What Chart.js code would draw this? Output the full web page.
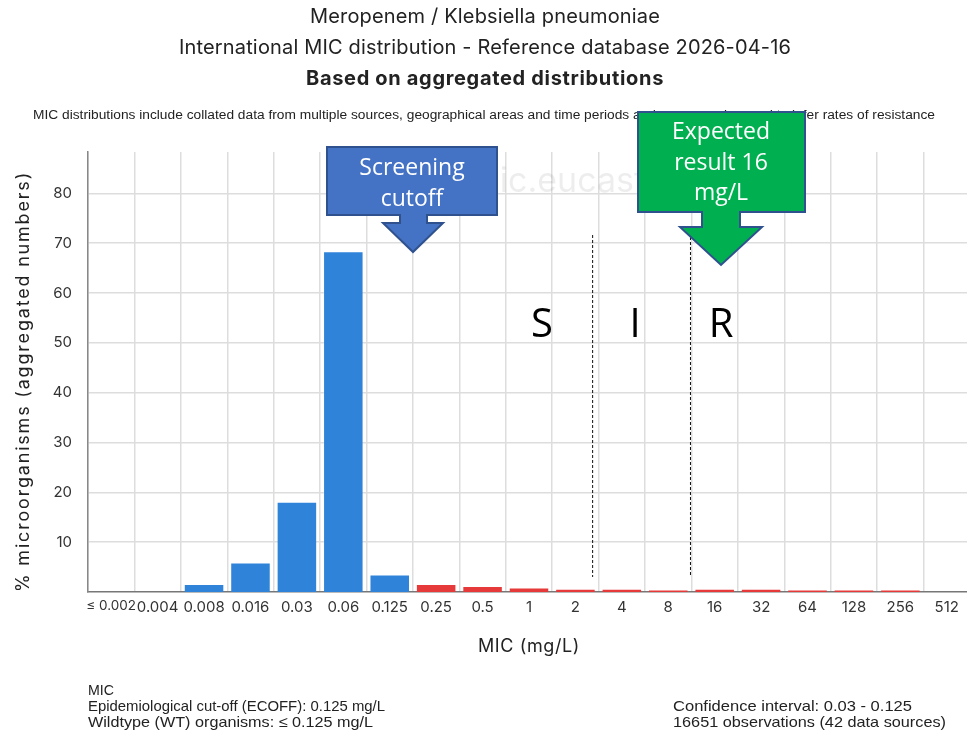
<!DOCTYPE html>
<html><head><meta charset="utf-8">
<script src="https://cdn.jsdelivr.net/npm/chart.js@4.4.1/dist/chart.umd.min.js"></script>
<style>
html,body{margin:0;padding:0;background:#fff;overflow:hidden;}
#wrap{position:relative;width:970px;height:734px;}
</style></head><body>
<div id="wrap"><canvas id="c" width="970" height="734"></canvas></div>
<script>
// ---------- data ----------
const categories = ['≤ 0.002','0.004','0.008','0.016','0.03','0.06','0.125','0.25','0.5','1','2','4','8','16','32','64','128','256','512'];
const percentages = [0, 0, 1.4, 5.7, 17.9, 68.2, 3.3, 1.4, 1.0, 0.7, 0.45, 0.45, 0.3, 0.45, 0.45, 0.3, 0.3, 0.3, 0];
const yTickValues = [10, 20, 30, 40, 50, 60, 70, 80];
const ecoffIndex = 6; // 0.125 mg/L, last wildtype category
const titleLines = ['Meropenem / Klebsiella pneumoniae', 'International MIC distribution - Reference database 2026-04-16'];
const subtitleText = 'Based on aggregated distributions';
const disclaimerText = 'MIC distributions include collated data from multiple sources, geographical areas and time periods and can never be used to infer rates of resistance';
const footerLeft = ['MIC', 'Epidemiological cut-off (ECOFF): 0.125 mg/L', 'Wildtype (WT) organisms: ≤ 0.125 mg/L'];
const footerRight = ['Confidence interval: 0.03 - 0.125', '16651 observations (42 data sources)'];
const xTitle = 'MIC (mg/L)';
const yTitle = '% microorganisms (aggregated numbers)';
const screeningLabel = ['Screening', 'cutoff'];
const expectedLabel = ['Expected', 'result 16', 'mg/L'];
const sirLabels = ['S', 'I', 'R'];
const watermark = 'mic.eucast.org';

// ---------- style ----------
const BLUE = '#2f84da', RED = '#e63a3a', TXT = '#222';
Chart.defaults.font.family = 'Inter, "Liberation Sans", sans-serif';
Chart.defaults.color = TXT;

function fitText(ctx, text, x, y, width, font, align) {
  ctx.save();
  ctx.font = font;
  const w = ctx.measureText(text).width;
  const sx = width / w;
  ctx.translate(x, y);
  ctx.scale(sx, 1);
  ctx.textAlign = align || 'left';
  ctx.textBaseline = 'alphabetic';
  ctx.fillText(text, 0, 0);
  ctx.restore();
}

// letter tracking for titles so their extent matches the reference
function track(obj, method, font, text, target) {
  if (!obj || obj['_tr_' + method]) return;
  const orig = obj[method];
  obj['_tr_' + method] = true;
  obj[method] = function (...args) {
    const c = this.ctx || obj.ctx;
    c.save();
    c.letterSpacing = '0px';
    c.font = font;
    const w = c.measureText(text).width;
    const sp = Math.max(0, (target - w) / text.length);
    c.restore();
    const prev = c.letterSpacing;
    c.letterSpacing = sp + 'px';
    orig.apply(this, args);
    c.letterSpacing = prev;
  };
}

const trackingPlugin = {
  id: 'tracking',
  afterLayout(chart) {
    track(chart.scales.y, 'drawTitle', '18px Inter', yTitle, 421);
    track(chart.scales.x, 'drawTitle', '18px Inter', xTitle, 102);
    chart.boxes.forEach(b => {
      if (!b.options || b.options.text === undefined) return;
      if (Array.isArray(b.options.text)) track(b, 'draw', '20px Inter', titleLines[0], 350);
      else if (b.options.text === subtitleText) track(b, 'draw', 'bold 20px Inter', subtitleText, 358);
    });
  }
};

function callout(ctx, c, fill) {
  ctx.save();
  ctx.beginPath();
  ctx.moveTo(c.l, c.t);
  ctx.lineTo(c.r, c.t);
  ctx.lineTo(c.r, c.b);
  ctx.lineTo(c.sr, c.b);
  ctx.lineTo(c.sr, c.hy);
  ctx.lineTo(c.hr, c.hy);
  ctx.lineTo(c.tx, c.ty);
  ctx.lineTo(c.hl, c.hy);
  ctx.lineTo(c.sl, c.hy);
  ctx.lineTo(c.sl, c.b);
  ctx.lineTo(c.l, c.b);
  ctx.closePath();
  ctx.fillStyle = fill;
  ctx.fill();
  ctx.lineWidth = 2;
  ctx.strokeStyle = '#2f528f';
  ctx.lineJoin = 'miter';
  ctx.stroke();
  ctx.restore();
}

const overlayPlugin = {
  id: 'overlay',
  beforeDatasetsDraw(chart) {
    const ctx = chart.ctx;
    ctx.save();
    ctx.font = '34px Inter';
    ctx.fillStyle = 'rgba(0,0,0,0.07)';
    ctx.textAlign = 'left';
    ctx.textBaseline = 'alphabetic';
    ctx.fillText(watermark, 470, 192);
    ctx.restore();
  },
  afterDraw(chart) {
    const ctx = chart.ctx;
    const x = chart.scales.x;
    const boundary = i => (x.getPixelForValue(i) + x.getPixelForValue(i + 1)) / 2;

    // disclaimer
    ctx.fillStyle = TXT;
    fitText(ctx, disclaimerText, 33, 119, 902, '12px "Liberation Sans"', 'left');

    // breakpoint dashed lines (S|I between 2 and 4, I|R between 8 and 16)
    ctx.save();
    ctx.strokeStyle = '#111';
    ctx.lineWidth = 1;
    ctx.setLineDash([3, 2]);
    const d1 = boundary(10) - 6, d2 = boundary(12) - 1;
    ctx.beginPath(); ctx.moveTo(d1, 235); ctx.lineTo(d1, 577); ctx.stroke();
    ctx.beginPath(); ctx.moveTo(d2, 232); ctx.lineTo(d2, 577); ctx.stroke();
    ctx.restore();

    // S I R
    ctx.save();
    ctx.fillStyle = '#000';
    ctx.font = '40px "Open Sans"';
    ctx.textAlign = 'center';
    ctx.textBaseline = 'alphabetic';
    ctx.fillText(sirLabels[0], 542, 337);
    ctx.fillText(sirLabels[1], 635, 337);
    ctx.fillText(sirLabels[2], 721, 337);
    ctx.restore();

    // callouts
    callout(ctx, {l: 327, t: 147, r: 497, b: 215, sl: 400, sr: 427, hy: 223, hl: 383, hr: 443, tx: 413, ty: 252}, '#4472c4');
    callout(ctx, {l: 638, t: 112, r: 805, b: 212, sl: 702, sr: 740, hy: 227, hl: 680, hr: 762, tx: 721, ty: 265}, '#00b050');
    ctx.save();
    ctx.fillStyle = '#fff';
    ctx.font = '23px "Open Sans"';
    ctx.textAlign = 'center';
    ctx.textBaseline = 'alphabetic';
    ctx.fillText(screeningLabel[0], 412, 175);
    ctx.fillText(screeningLabel[1], 412, 206);
    ctx.fillText(expectedLabel[0], 721, 139);
    ctx.fillText(expectedLabel[1], 721, 170);
    ctx.fillText(expectedLabel[2], 721, 200);
    ctx.restore();

    // footer
    ctx.fillStyle = TXT;
    const fl = [[26, 695], [297, 711], [285, 727]];
    footerLeft.forEach((t, i) => fitText(ctx, t, 88, fl[i][1], fl[i][0], '15px "Liberation Sans"', 'left'));
    const fr = [[239, 711], [273, 727]];
    footerRight.forEach((t, i) => fitText(ctx, t, 673, fr[i][1], fr[i][0], '15px "Liberation Sans"', 'left'));
  }
};

new Chart(document.getElementById('c'), {
  type: 'bar',
  data: {
    labels: categories,
    datasets: [{
      data: percentages,
      backgroundColor: c => c.dataIndex <= ecoffIndex ? BLUE : RED,
      borderWidth: 0,
      barPercentage: 0.83,
      categoryPercentage: 1.0
    }]
  },
  options: {
    responsive: false,
    animation: false,
    events: [],
    layout: { padding: { left: 0, right: 0, top: 0, bottom: 64 } },
    plugins: {
      legend: { display: false },
      tooltip: { enabled: false },
      title: {
        display: true,
        text: titleLines,
        font: { size: 20, weight: 'normal', lineHeight: 31 / 20 },
        padding: { top: 1.5, bottom: 0 },
        color: TXT
      },
      subtitle: {
        display: true,
        text: subtitleText,
        font: { size: 20, weight: 'bold', lineHeight: 31 / 20 },
        padding: { top: 0, bottom: 57.5 },
        color: TXT
      }
    },
    scales: {
      x: {
        offset: true,
        grid: { offset: true, color: '#dddddd', lineWidth: 1.5, drawTicks: false },
        border: { color: '#777', width: 1.5 },
        ticks: {
          font: c => ({ size: c.index === 0 ? 13.5 : 15 }),
          color: '#333', padding: 6, maxRotation: 0, autoSkip: false
        },
        title: { display: true, text: xTitle, font: { size: 18 }, padding: { top: 0, bottom: 13 }, color: TXT },
        afterFit(s) { s.height = 78; }
      },
      y: {
        min: 0,
        max: 88.3,
        afterBuildTicks(s) { s.ticks = yTickValues.map(v => ({ value: v })); },
        grid: { color: '#dddddd', lineWidth: 1.5, drawTicks: false },
        border: { color: '#888', width: 1.5 },
        ticks: { font: { size: 15 }, color: '#333', padding: 16 },
        title: { display: true, text: yTitle, align: 'start', font: { size: 18 }, padding: { top: 13, bottom: 0 }, color: TXT },
        afterFit(s) { s.width = 88; }
      }
    }
  },
  plugins: [trackingPlugin, overlayPlugin]
});
</script>
</body></html>
